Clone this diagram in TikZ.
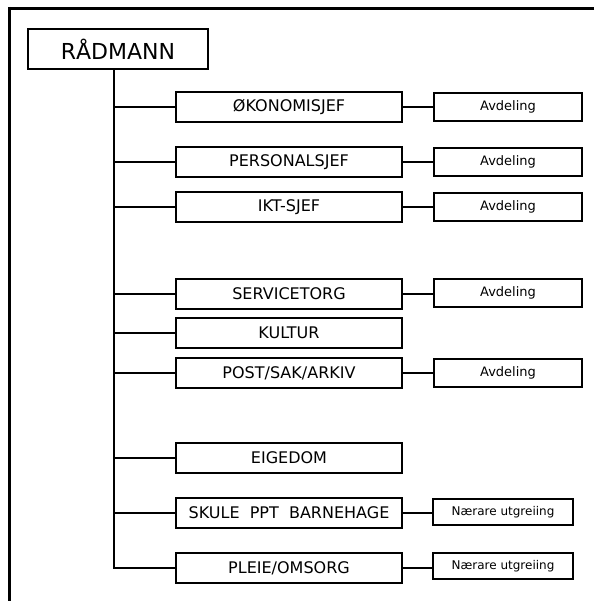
\documentclass[tikz,border=0pt]{standalone}
\usepackage{fontspec}
\setmainfont{DejaVu Sans}
\begin{document}
\begin{tikzpicture}[x=1pt,y=-1pt,
  box/.style={draw=black,line width=2pt,inner sep=0pt,minimum width=226pt,minimum height=30pt,font=\fontsize{16}{18}\selectfont},
  avd/.style={draw=black,line width=2pt,inner sep=0pt,minimum width=148pt,minimum height=28pt,font=\fontsize{13}{15}\selectfont},
  nar/.style={draw=black,line width=2pt,inner sep=0pt,minimum width=140pt,minimum height=26pt,font=\fontsize{12}{14}\selectfont},
  conn/.style={draw=black,line width=2pt},
  frame/.style={line width=3pt}]
\useasboundingbox (0,0) rectangle (594,601);
\draw[frame] (594,8.5) -- (8,8.5);
\draw[frame] (9.5,7) -- (9.5,601);
\node[draw=black,line width=2pt,minimum width=180pt,minimum height=40pt,inner sep=0pt,font=\fontsize{22}{24}\selectfont] (rad) at (118,49) {RÅDMANN};
\coordinate (t0) at (114,69);
\node[box] (okon) at (289,107) {ØKONOMISJEF};
\node[box] (pers) at (289,162) {PERSONALSJEF};
\node[box] (ikt) at (289,207) {IKT-SJEF};
\node[box] (serv) at (289,294) {SERVICETORG};
\node[box] (kult) at (289,333) {KULTUR};
\node[box] (post) at (289,373) {POST/SAK/ARKIV};
\node[box] (eige) at (289,458) {EIGEDOM};
\node[box] (skul) at (289,513) {SKULE\ \ PPT\ \ BARNEHAGE};
\node[box] (plei) at (289,568) {PLEIE/OMSORG};
\node[avd] (a1) at (508,107) {Avdeling};
\node[avd] (a2) at (508,162) {Avdeling};
\node[avd] (a3) at (508,207) {Avdeling};
\node[avd] (a4) at (508,293) {Avdeling};
\node[avd] (a5) at (508,373) {Avdeling};
\node[nar] (n1) at (503,512) {Nærare utgreiing};
\node[nar] (n2) at (503,566) {Nærare utgreiing};
\draw[conn] (t0) |- (plei.west);
\foreach \b in {okon,pers,ikt,serv,kult,post,eige,skul}{
  \draw[conn] (t0 |- \b.west) -- (\b.west);
}
\draw[conn] (okon.east) -- (a1.west);
\draw[conn] (pers.east) -- (a2.west);
\draw[conn] (ikt.east) -- (a3.west);
\draw[conn] (serv.east) -- (serv.east -| a4.west);
\draw[conn] (post.east) -- (a5.west);
\draw[conn] (skul.east) -- (skul.east -| n1.west);
\draw[conn] (plei.east) -- (plei.east -| n2.west);
\end{tikzpicture}
\end{document}
